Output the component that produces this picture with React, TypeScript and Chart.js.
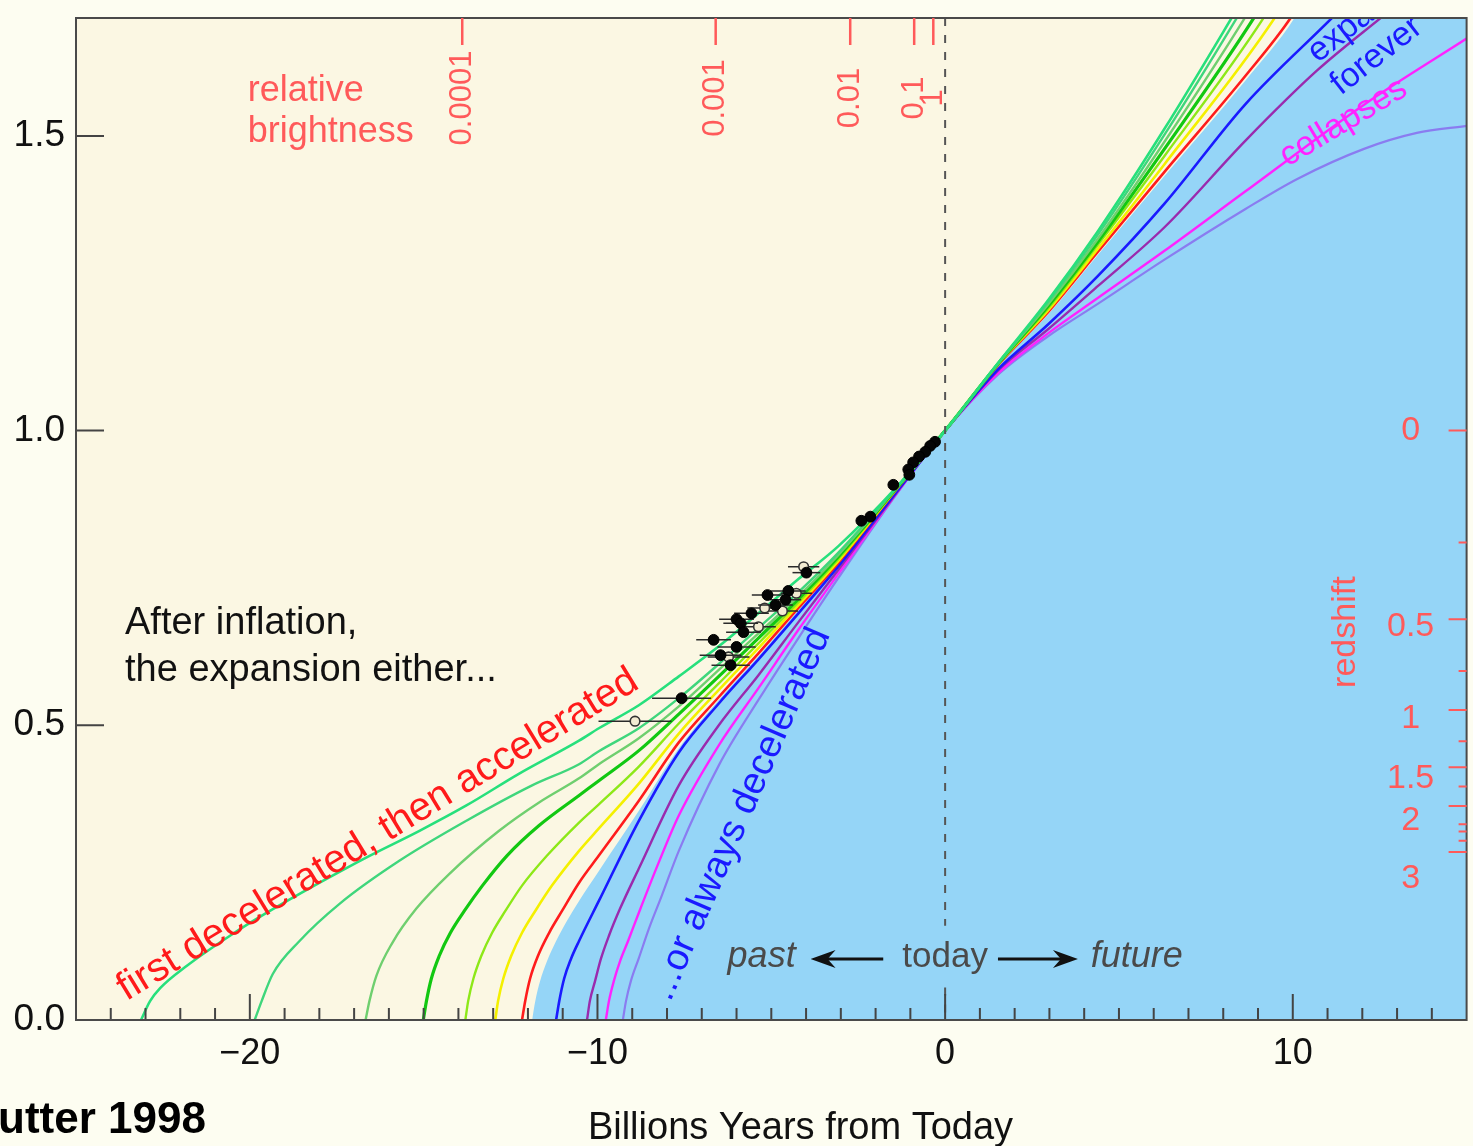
import React, { useEffect, useRef } from 'react';
import { Chart, registerables } from 'chart.js';

Chart.register(...registerables);

const FONT = '"Liberation Sans", Arial, Helvetica, sans-serif';
const PAGE_BG = '#fdfdf1';
const PLOT_BG = '#fbf7e3';
const SKY = '#95d5f7';
const SALMON = '#ff5a5a';

// ---- axes ----
const timeTickValues = [-20, -10, 0, 10];
const sizeTickValues = [0, 0.5, 1.0, 1.5];

// relative brightness (top scale), placed at times
const brightnessLabels = ['0.0001', '0.001', '0.01', '0.1', '1'];
const brightnessTime = [-13.89, -6.6, -2.73, -0.89, -0.34];

// redshift (right scale), placed at relative sizes
const redshiftLabels = ['0', '0.5', '1', '1.5', '2', '3'];
const redshiftTickSize = [1.0, 0.68, 0.526, 0.429, 0.363, 0.285];
const redshiftLabelSize = [1.0, 0.667, 0.512, 0.41, 0.338, 0.24];
const redshiftMinorSize = [0.81, 0.592, 0.473, 0.396, 0.332, 0.32, 0.304];

// ---- expansion histories: [time (Gyr from today), relative size] ----
const curveSpring = [[-23.13,0],[-22.87,0.032],[-22.58,0.054],[-21.81,0.092],[-20.57,0.143],[-19.51,0.182],[-17.99,0.233],[-16.64,0.276],[-15.12,0.321],[-13.77,0.364],[-12.25,0.418],[-10.53,0.474],[-9.96,0.495],[-8.81,0.534],[-7.66,0.583],[-6.51,0.634],[-5.37,0.69],[-4.22,0.748],[-3.07,0.804],[-1.35,0.907],[0,1],[1.52,1.1145],[2.96,1.221],[4.39,1.338],[6.31,1.512],[8.26,1.702],[8.46,1.722]];
const curveSea = [[-19.86,0],[-19.66,0.032],[-19.34,0.078],[-18.57,0.134],[-17.42,0.197],[-15.7,0.27],[-13.77,0.338],[-11.88,0.398],[-10.53,0.434],[-9.96,0.456],[-8.81,0.495],[-7.66,0.546],[-6.51,0.604],[-5.37,0.665],[-4.22,0.726],[-3.07,0.793],[-1.35,0.9066],[0,1],[1.52,1.114],[2.96,1.218],[4.39,1.332],[6.31,1.502],[8.41,1.702],[8.61,1.722]];
const curveMint = [[-16.67,0],[-16.56,0.032],[-16.36,0.075],[-15.9,0.131],[-15.21,0.189],[-14.26,0.248],[-12.83,0.321],[-11.68,0.369],[-10.53,0.41],[-9.96,0.434],[-8.81,0.478],[-7.66,0.532],[-6.51,0.594],[-5.37,0.656],[-4.22,0.719],[-3.07,0.789],[-1.35,0.906],[0,1],[1.52,1.1135],[2.96,1.214],[4.39,1.325],[6.31,1.49],[8.64,1.702],[8.84,1.722]];
const curveGreen = [[-15.01,0],[-14.92,0.032],[-14.78,0.07],[-14.55,0.109],[-14.23,0.148],[-13.83,0.185],[-13.31,0.228],[-12.6,0.279],[-11.68,0.33],[-10.53,0.381],[-9.96,0.406],[-8.81,0.457],[-7.66,0.519],[-6.51,0.583],[-5.37,0.648],[-4.22,0.714],[-3.07,0.786],[-1.35,0.9055],[0,1],[1.52,1.113],[2.96,1.211],[4.39,1.32],[6.31,1.478],[8.9,1.702],[9.1,1.722]];
const curveLime = [[-13.8,0],[-13.72,0.032],[-13.57,0.07],[-13.34,0.109],[-13.03,0.148],[-12.65,0.185],[-12.17,0.228],[-11.45,0.279],[-10.53,0.335],[-9.96,0.366],[-8.81,0.43],[-7.66,0.503],[-6.51,0.571],[-5.37,0.639],[-4.22,0.709],[-3.07,0.782],[-1.35,0.905],[0,1],[1.52,1.1126],[2.96,1.207],[4.39,1.315],[6.31,1.466],[9.18,1.702],[9.38,1.722]];
const curveYellow = [[-12.94,0],[-12.86,0.032],[-12.71,0.07],[-12.48,0.109],[-12.17,0.148],[-11.79,0.185],[-11.31,0.228],[-10.53,0.287],[-9.96,0.325],[-8.81,0.401],[-7.66,0.486],[-6.51,0.56],[-5.37,0.631],[-4.22,0.704],[-3.07,0.779],[-1.35,0.9044],[0,1],[1.52,1.1122],[2.96,1.204],[4.39,1.308],[6.31,1.452],[9.5,1.702],[9.7,1.722]];
const curveRed = [[-12.17,0],[-12.08,0.032],[-11.94,0.07],[-11.71,0.109],[-11.39,0.148],[-11.02,0.185],[-10.53,0.233],[-9.96,0.279],[-8.81,0.372],[-7.66,0.471],[-6.51,0.548],[-5.37,0.622],[-4.22,0.699],[-3.07,0.776],[-1.35,0.9039],[0,1],[1.52,1.111],[2.96,1.201],[4.39,1.303],[6.31,1.439],[8.64,1.602],[9.96,1.702],[10.16,1.722]];
const boundary = [[-11.88,0],[-11.79,0.032],[-11.65,0.066],[-11.45,0.1],[-11.19,0.134],[-10.88,0.168],[-10.53,0.202],[-9.96,0.253],[-8.81,0.355],[-7.66,0.461],[-6.51,0.543],[-5.37,0.617],[-4.22,0.696],[-3.07,0.774],[-1.35,0.9035],[0,1],[1.52,1.1103],[2.96,1.197],[4.39,1.298],[6.31,1.432],[8.64,1.594],[10.07,1.702],[10.6,1.76],[15,2.3]];
const curveBlue = [[-11.19,0],[-11.1,0.032],[-10.96,0.07],[-10.76,0.104],[-10.53,0.134],[-9.96,0.202],[-8.81,0.338],[-7.66,0.454],[-6.51,0.537],[-5.37,0.612],[-4.22,0.69],[-3.07,0.77],[-1.35,0.8997],[0,1],[1.52,1.104],[2.96,1.18],[4.39,1.262],[6.31,1.385],[8.64,1.554],[11.16,1.702],[11.36,1.714]];
const curvePurple = [[-10.3,0],[-10.22,0.032],[-10.07,0.066],[-9.9,0.104],[-9.67,0.143],[-9.35,0.189],[-8.81,0.257],[-7.66,0.398],[-6.51,0.5],[-5.37,0.585],[-4.22,0.675],[-3.07,0.764],[-1.35,0.8979],[0,1],[1.52,1.1018],[2.96,1.172],[4.39,1.245],[6.31,1.345],[8.64,1.492],[10.7,1.611],[12.57,1.702],[12.8,1.713]];
const curveMagenta = [[-9.76,0],[-9.67,0.032],[-9.53,0.066],[-9.35,0.1],[-9.12,0.134],[-8.81,0.182],[-8.24,0.267],[-7.66,0.347],[-6.51,0.466],[-5.37,0.563],[-4.22,0.662],[-3.07,0.757],[-1.35,0.897],[0,1],[1.52,1.0971],[2.96,1.165],[4.39,1.225],[6.31,1.305],[8.64,1.406],[12.05,1.553],[15,1.665]];
const curveLavender = [[-9.27,0],[-9.18,0.032],[-9.04,0.066],[-8.81,0.105],[-8.52,0.155],[-8.15,0.211],[-7.66,0.287],[-6.51,0.432],[-5.37,0.543],[-4.22,0.648],[-3.07,0.75],[-1.35,0.896],[0,1],[1.52,1.0948],[2.96,1.16],[4.39,1.215],[6.31,1.29],[8.64,1.376],[10.13,1.427],[12.05,1.478],[13.57,1.505],[15,1.517]];

// ---- supernovae ----
const snFilledTime = [-0.29,-0.43,-0.57,-0.75,-0.92,-1.06,-1.03,-1.49,-2.15,-2.41,-3.99,-4.51,-4.59,-4.88,-5.11,-5.57,-6.0,-5.88,-5.8,-6.0,-6.66,-6.46,-6.17,-7.58];
const snFilledSize = [0.981,0.974,0.964,0.956,0.946,0.934,0.925,0.908,0.854,0.847,0.759,0.728,0.713,0.704,0.721,0.69,0.68,0.673,0.658,0.633,0.645,0.619,0.602,0.546];
const snFilledErr = [0.1,0.1,0.1,0.1,0.1,0.1,0.1,0.1,0.15,0.15,0.4,0.5,0.45,0.5,0.45,0.5,0.5,0.5,0.5,0.55,0.5,0.6,0.55,0.85];
const snOpenTime = [-4.07,-4.28,-5.19,-4.68,-5.37,-6.23,-8.92];
const snOpenSize = [0.769,0.724,0.699,0.694,0.667,0.616,0.507];
const snOpenErr = [0.45,0.45,0.5,0.45,0.5,0.6,1.05];

const curves = [
  { name: 'c1', pts: curveSpring, color: '#27e07c', w: 2.6 },
  { name: 'c2', pts: curveSea, color: '#3fd67c', w: 2.4 },
  { name: 'c3', pts: curveMint, color: '#6fcf6f', w: 2.4 },
  { name: 'c4', pts: curveGreen, color: '#12c812', w: 3.2 },
  { name: 'c5', pts: curveLime, color: '#8de818', w: 2.4 },
  { name: 'c6', pts: curveYellow, color: '#f4f000', w: 2.6 },
  { name: 'c7', pts: curveRed, color: '#ff1c1c', w: 2.6 },
  { name: 'c8', pts: curveBlue, color: '#1a1aff', w: 2.6 },
  { name: 'c9', pts: curvePurple, color: '#9a2aae', w: 2.4 },
  { name: 'c10', pts: curveMagenta, color: '#ff22ff', w: 2.4 },
  { name: 'c11', pts: curveLavender, color: '#8a7cf0', w: 2.2 },
];

const toXY = (pts: number[][]) => pts.map(([x, y]) => ({ x, y }));
const fmtTime = (v: number) => (v < 0 ? '\u2212' + Math.abs(v) : String(v));

function drawText(ctx: any, str: string, x: number, y: number, font: string, color: string, align = 'left', baseline = 'alphabetic', rot = 0) {
  ctx.save();
  ctx.translate(x, y);
  if (rot) ctx.rotate((rot * Math.PI) / 180);
  ctx.font = font;
  ctx.fillStyle = color;
  ctx.textAlign = align;
  ctx.textBaseline = baseline;
  ctx.fillText(str, 0, 0);
  ctx.restore();
}

function arrow(ctx: any, x1: number, y: number, x2: number) {
  const d = Math.sign(x2 - x1);
  ctx.beginPath();
  ctx.moveTo(x1, y);
  ctx.lineTo(x2 - d * 14, y);
  ctx.stroke();
  ctx.beginPath();
  ctx.moveTo(x2, y);
  ctx.lineTo(x2 - d * 25, y - 9);
  ctx.lineTo(x2 - d * 17, y);
  ctx.lineTo(x2 - d * 25, y + 9);
  ctx.closePath();
  ctx.fill();
}

const overlayPlugin = {
  id: 'overlay',
  beforeDraw(chart: any) {
    const { ctx, chartArea: ca, width, height } = chart;
    ctx.save();
    ctx.fillStyle = PAGE_BG;
    ctx.fillRect(0, 0, width, height);
    ctx.fillStyle = PLOT_BG;
    ctx.fillRect(ca.left, ca.top, ca.right - ca.left, ca.bottom - ca.top);
    ctx.restore();
  },
  beforeDatasetDraw(chart: any, args: any) {
    const ds = chart.data.datasets[args.index];
    if (!ds.errors) return;
    const { ctx } = chart;
    const xs = chart.scales.x;
    const ys = chart.scales.y;
    ctx.save();
    ctx.strokeStyle = '#2a2a2a';
    ctx.lineWidth = 1.5;
    ds.data.forEach((p: any, i: number) => {
      const e = ds.errors[i];
      const py = ys.getPixelForValue(p.y);
      ctx.beginPath();
      ctx.moveTo(xs.getPixelForValue(p.x - e), py);
      ctx.lineTo(xs.getPixelForValue(p.x + e), py);
      ctx.stroke();
    });
    ctx.restore();
  },
  afterDatasetsDraw(chart: any) {
    const { ctx, chartArea: ca } = chart;
    const xs = chart.scales.x;
    const ys = chart.scales.y;
    const px = (t: number) => xs.getPixelForValue(t);
    const py = (a: number) => ys.getPixelForValue(a);

    ctx.save();
    ctx.beginPath();
    ctx.rect(ca.left, ca.top, ca.right - ca.left, ca.bottom - ca.top);
    ctx.clip();

    // "today" dashed line
    const x0 = px(0);
    ctx.strokeStyle = '#555';
    ctx.lineWidth = 2;
    ctx.setLineDash([8, 9]);
    ctx.beginPath();
    ctx.moveTo(x0, ca.top);
    ctx.lineTo(x0, py(0.16));
    ctx.moveTo(x0, py(0.055));
    ctx.lineTo(x0, ca.bottom);
    ctx.stroke();
    ctx.setLineDash([]);

    // annotations
    drawText(ctx, 'relative', px(-20.06), py(1.56), `36px ${FONT}`, SALMON);
    drawText(ctx, 'brightness', px(-20.06), py(1.49), `36px ${FONT}`, SALMON);
    drawText(ctx, 'After inflation,', px(-23.59), py(0.655), `38px ${FONT}`, '#111');
    drawText(ctx, 'the expansion either...', px(-23.59), py(0.575), `38px ${FONT}`, '#111');
    drawText(ctx, 'first decelerated, then accelerated', px(-16.15), py(0.298), `40px ${FONT}`, '#ff1a1a', 'center', 'alphabetic', -31.4);
    drawText(ctx, '...or always decelerated', px(-5.88), py(0.349), `38px ${FONT}`, '#1a1aff', 'center', 'middle', -66.5);
    drawText(ctx, 'expand', px(10.72), py(1.623), `34px ${FONT}`, '#1a1aff', 'left', 'alphabetic', -38);
    drawText(ctx, 'forever', px(11.38), py(1.568), `34px ${FONT}`, '#1a1aff', 'left', 'alphabetic', -38);
    drawText(ctx, 'collapses', px(9.85), py(1.447), `34px ${FONT}`, '#ff22ff', 'left', 'alphabetic', -31);
    drawText(ctx, 'redshift', px(11.51), py(0.658), `34px ${FONT}`, SALMON, 'center', 'middle', -90);

    // past <- today -> future
    const yArrow = py(0.107);
    drawText(ctx, 'past', px(-4.3), yArrow, `italic 36px ${FONT}`, '#4a4a4a', 'right', 'middle');
    drawText(ctx, 'today', px(0), yArrow, `35px ${FONT}`, '#4a4a4a', 'center', 'middle');
    drawText(ctx, 'future', px(4.19), yArrow, `italic 36px ${FONT}`, '#4a4a4a', 'left', 'middle');
    ctx.strokeStyle = '#111';
    ctx.fillStyle = '#111';
    ctx.lineWidth = 3;
    arrow(ctx, px(-1.78), yArrow + 2, px(-3.87));
    arrow(ctx, px(1.52), yArrow + 2, px(3.82));
    ctx.restore();
  },
  afterDraw(chart: any) {
    const { ctx, chartArea: ca } = chart;
    const xs = chart.scales.x;
    const ys = chart.scales.y;
    const px = (t: number) => xs.getPixelForValue(t);
    const py = (a: number) => ys.getPixelForValue(a);
    ctx.save();

    // inward ticks: time axis
    ctx.strokeStyle = '#444';
    ctx.lineWidth = 2;
    ctx.beginPath();
    for (let t = Math.ceil(xs.min) + 1; t < xs.max; t++) {
      const len = t % 10 === 0 ? 26 : 12;
      ctx.moveTo(px(t), ca.bottom);
      ctx.lineTo(px(t), ca.bottom - len);
    }
    // inward ticks: size axis
    sizeTickValues.forEach((v) => {
      if (v <= ys.min) return;
      ctx.moveTo(ca.left, py(v));
      ctx.lineTo(ca.left + 28, py(v));
    });
    ctx.stroke();

    // frame
    ctx.strokeStyle = '#4a4a4a';
    ctx.lineWidth = 2;
    ctx.strokeRect(ca.left, ca.top, ca.right - ca.left, ca.bottom - ca.top);

    // relative brightness scale (top)
    ctx.strokeStyle = SALMON;
    ctx.lineWidth = 2.5;
    ctx.beginPath();
    brightnessTime.forEach((t) => {
      ctx.moveTo(px(t), ca.top);
      ctx.lineTo(px(t), ca.top + 27);
    });
    ctx.stroke();
    brightnessLabels.forEach((lab, i) => {
      drawText(ctx, lab, px(brightnessTime[i]), ca.top + 80, `31px ${FONT}`, SALMON, 'center', 'middle', -90);
    });

    // redshift scale (right)
    ctx.strokeStyle = SALMON;
    ctx.lineWidth = 2;
    ctx.beginPath();
    redshiftTickSize.forEach((a) => {
      ctx.moveTo(ca.right, py(a));
      ctx.lineTo(ca.right - 18, py(a));
    });
    redshiftMinorSize.forEach((a) => {
      ctx.moveTo(ca.right, py(a));
      ctx.lineTo(ca.right - 8, py(a));
    });
    ctx.stroke();
    redshiftLabels.forEach((lab, i) => {
      drawText(ctx, lab, ca.right - 56, py(redshiftLabelSize[i]), `34px ${FONT}`, SALMON, 'center', 'middle');
    });

    // captions outside the plot
    drawText(ctx, 'Billions Years from Today', px(-4.16), ca.bottom + 119, `38px ${FONT}`, '#111', 'center', 'alphabetic');
    drawText(ctx, 'utter 1998', -2, ca.bottom + 113, `bold 44px ${FONT}`, '#000', 'left', 'alphabetic');
    ctx.restore();
  },
};

export default function App() {
  const ref = useRef<HTMLCanvasElement | null>(null);
  useEffect(() => {
    document.body.style.margin = '0';
    document.body.style.background = PAGE_BG;
    const canvas = ref.current;
    if (!canvas) return;

    const datasets: any[] = [
      {
        label: 'SNe (filled)',
        data: snFilledTime.map((t, i) => ({ x: t, y: snFilledSize[i] })),
        errors: snFilledErr,
        showLine: false,
        pointRadius: 5.4,
        pointBackgroundColor: '#050505',
        pointBorderColor: '#000',
        pointBorderWidth: 1,
        order: 0,
      },
      {
        label: 'SNe (open)',
        data: snOpenTime.map((t, i) => ({ x: t, y: snOpenSize[i] })),
        errors: snOpenErr,
        showLine: false,
        pointRadius: 4.8,
        pointBackgroundColor: '#f3ecd2',
        pointBorderColor: '#333',
        pointBorderWidth: 1.6,
        order: 1,
      },
      ...curves.map((c, i) => ({
        label: c.name,
        data: toXY(c.pts),
        showLine: true,
        borderColor: c.color,
        borderWidth: c.w,
        pointRadius: 0,
        cubicInterpolationMode: 'monotone',
        fill: false,
        order: 10 + i,
      })),
      {
        label: 'boundary',
        data: toXY(boundary),
        showLine: true,
        borderColor: 'rgba(0,0,0,0)',
        borderWidth: 1,
        backgroundColor: SKY,
        fill: 'start',
        pointRadius: 0,
        cubicInterpolationMode: 'monotone',
        order: 100,
      },
    ];

    const chart = new Chart(canvas, {
      type: 'scatter',
      data: { datasets },
      options: {
        animation: false,
        responsive: false,
        maintainAspectRatio: false,
        events: [],
        layout: { padding: { top: 18, right: 3, left: 0, bottom: 0 } },
        plugins: { legend: { display: false }, tooltip: { enabled: false } },
        scales: {
          x: {
            type: 'linear',
            min: -25,
            max: 15,
            grid: { display: false, drawTicks: false },
            border: { display: false },
            afterBuildTicks: (s: any) => {
              s.ticks = timeTickValues.map((v) => ({ value: v }));
            },
            afterFit: (s: any) => {
              s.height = 126;
              s.paddingLeft = 0;
              s.paddingRight = 0;
            },
            ticks: {
              padding: 12,
              color: '#111',
              maxRotation: 0,
              autoSkip: false,
              font: { family: FONT, size: 36 },
              callback: (v: any) => fmtTime(Number(v)),
            },
          },
          y: {
            type: 'linear',
            min: 0,
            max: 1.7,
            grid: { display: false, drawTicks: false },
            border: { display: false },
            afterBuildTicks: (s: any) => {
              s.ticks = sizeTickValues.map((v) => ({ value: v }));
            },
            afterFit: (s: any) => {
              s.width = 76;
              s.paddingTop = 0;
              s.paddingBottom = 0;
            },
            ticks: {
              padding: 11,
              color: '#111',
              autoSkip: false,
              font: { family: FONT, size: 37 },
              callback: (v: any) => Number(v).toFixed(1),
            },
          },
        },
      } as any,
      plugins: [overlayPlugin as any],
    });
    return () => chart.destroy();
  }, []);

  return (
    <div style={{ position: 'absolute', left: 0, top: 0 }}>
      <canvas ref={ref} width={1473} height={1146} style={{ display: 'block', width: 1473, height: 1146 }} />
    </div>
  );
}
